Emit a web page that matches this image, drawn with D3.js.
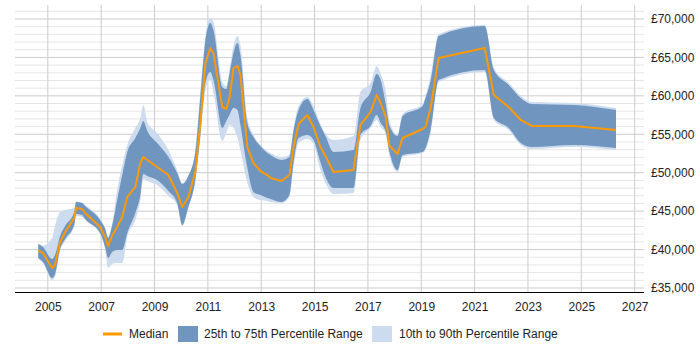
<!DOCTYPE html>
<html>
<head>
<meta charset="utf-8">
<script src="https://cdnjs.cloudflare.com/ajax/libs/d3/7.8.5/d3.min.js"></script>
<style>
  body { margin: 0; background: #fff; }
  svg { font-family: "Liberation Sans", Arial, sans-serif; }
  .tick-label { font-size: 12px; fill: #222; }
  .legend-label { font-size: 12px; fill: #222; }
</style>
</head>
<body>
<svg width="700" height="350"></svg>
<script>
const years = [2004.64, 2004.82, 2005.16, 2005.27, 2005.46, 2005.65, 2005.99, 2006.06, 2006.29, 2006.40,
  2006.96, 2007.15, 2007.26, 2007.41, 2007.60, 2007.79, 2007.98, 2008.28, 2008.47, 2008.58,
  2008.73, 2009.10, 2009.52, 2009.85, 2010.04, 2010.27, 2010.53, 2010.72, 2010.91, 2011.09,
  2011.21, 2011.54, 2011.69, 2011.81, 2011.96, 2012.11, 2012.22, 2012.48, 2012.71, 2012.97,
  2013.23, 2013.35, 2013.76, 2014.06, 2014.21, 2014.40, 2014.73, 2014.96, 2015.22, 2015.41,
  2015.71, 2016.46, 2016.72, 2017.10, 2017.33, 2017.48, 2017.66, 2017.81, 2018.11, 2018.30,
  2019.05, 2019.16, 2019.35, 2019.65, 2021.38, 2021.72, 2022.28, 2022.73, 2023.14, 2024.72,
  2026.30];

const p90 = [40750, 40500, 41500, 43070, 44890, 45150, 45410, 46250, 46100, 45800,
  43980, 42810, 41770, 43330, 47750, 51000, 53600, 55820, 57120, 58810,
  56600, 55170, 52950, 50350, 48660, 49650, 52950, 60500, 67790, 70130,
  69610, 61800, 61280, 63360, 66480, 67790, 66610, 57120, 54910, 53600,
  52820, 52560, 52040, 52300, 55690, 58680, 59850, 58680, 56340, 55040,
  54260, 54780, 60500, 61670, 63880, 62840, 60760, 56730, 54910, 57640,
  58940, 59980, 62580, 68050, 69220, 63620, 61670, 59980, 59200, 59070,
  58420];

const p75 = [40720, 40330, 38770, 39290, 41770, 43070, 44890, 46190, 46060, 45670,
  43850, 42680, 41500, 43070, 46450, 49700, 52690, 54520, 55820, 56730,
  55430, 53870, 52040, 49960, 48530, 49570, 52690, 59980, 67270, 69480,
  68570, 61150, 60890, 62840, 65570, 66880, 65310, 56470, 54650, 53470,
  52560, 52300, 51650, 52040, 55430, 58160, 59590, 58160, 56080, 54780,
  52690, 52950, 58420, 60500, 62840, 62060, 59070, 56080, 54780, 57380,
  58680, 59720, 61930, 67790, 69090, 63360, 61410, 59720, 58940, 58810,
  58160];

const median = [39940, 39550, 37600, 37990, 40990, 42290, 44110, 45410, 45280, 44760,
  42940, 41640, 40460, 41770, 42940, 44240, 46840, 48140, 51260, 52040,
  51650, 50740, 49700, 47360, 45540, 46840, 50090, 56470, 64270, 66220,
  65570, 58550, 58290, 59720, 63620, 63880, 62710, 53340, 51260, 50220,
  49700, 49310, 48920, 49700, 53340, 56340, 57510, 55950, 53340, 52170,
  50090, 50350, 56210, 57900, 60110, 59070, 57380, 53470, 52430, 54520,
  55690, 55950, 58420, 64920, 66220, 60110, 58550, 56860, 56080, 56080,
  55560];

const p25 = [38900, 38380, 36300, 36820, 40070, 41380, 43200, 44630, 44500, 43980,
  42160, 40330, 38900, 39680, 39940, 39940, 42160, 44760, 47100, 49830,
  49570, 49050, 47620, 46060, 43200, 45540, 49050, 54910, 61670, 63100,
  62060, 55820, 56730, 57510, 58420, 58160, 56210, 50610, 47490, 47100,
  46710, 46580, 46190, 47100, 51260, 54520, 54910, 54260, 51390, 49440,
  48010, 48010, 54910, 56080, 57510, 56470, 55430, 52690, 50350, 52300,
  52690, 53210, 55560, 62060, 63360, 57120, 55820, 53870, 53340, 53600,
  53210];

const p10 = [38770, 38250, 36040, 36430, 39810, 41120, 43070, 44370, 44240, 43850,
  42030, 39940, 37600, 38120, 38250, 38250, 41640, 43850, 46450, 49180,
  48920, 48400, 46970, 45800, 43070, 45410, 48920, 54650, 60760, 62060,
  60370, 54130, 55170, 56210, 55820, 54520, 52950, 48660, 46840, 46450,
  46320, 46190, 46060, 46840, 50740, 53870, 54390, 53740, 50350, 48660,
  47230, 47360, 54260, 55820, 56860, 55950, 55170, 52170, 50090, 52040,
  52560, 52950, 55170, 61800, 63100, 56860, 55560, 53600, 53080, 53340,
  52950];

const xTicks = [2005, 2007, 2009, 2011, 2013, 2015, 2017, 2019, 2021, 2023, 2025, 2027];
const yTicks = [35000, 40000, 45000, 50000, 55000, 60000, 65000, 70000];
const yMinor = d3.range(35000, 72000, 1000);
const legendLabels = ["Median", "25th to 75th Percentile Range", "10th to 90th Percentile Range"];

SalaryChart = function() {
  this.initVis();
};

SalaryChart.prototype.initVis = function() {
  let vis = this;

  vis.svg = d3.select("svg");
  vis.left = 15;
  vis.right = 644;
  vis.top = 5;
  vis.bottom = 292;

  vis.x = d3.scaleLinear()
    .domain([2003.77, 2027.35])
    .range([vis.left, vis.right]);

  vis.y = d3.scaleLinear()
    .domain([34480, 71820])
    .range([vis.bottom, vis.top]);

  vis.data = years.map(function(yr, i) {
    return { year: yr, p10: p10[i], p25: p25[i], med: median[i], p75: p75[i], p90: p90[i] };
  });

  vis.renderGrid();
  vis.renderBands();
  vis.renderAxes();
  vis.renderLegend();
};

SalaryChart.prototype.renderGrid = function() {
  let vis = this;

  // minor lines every 1000
  vis.svg.append("g")
    .selectAll("line")
    .data(yMinor.filter(function(d) { return d % 5000 !== 0; }))
    .enter()
    .append("line")
    .attr("x1", vis.left)
    .attr("x2", vis.right)
    .attr("y1", function(d) { return vis.y(d); })
    .attr("y2", function(d) { return vis.y(d); })
    .attr("stroke", "#e6e6e6")
    .attr("stroke-width", 1);

  vis.svg.append("g")
    .selectAll("line")
    .data(yTicks)
    .enter()
    .append("line")
    .attr("x1", vis.left)
    .attr("x2", vis.right)
    .attr("y1", function(d) { return vis.y(d); })
    .attr("y2", function(d) { return vis.y(d); })
    .attr("stroke", "#cccccc")
    .attr("stroke-width", 1);

  vis.svg.append("g")
    .selectAll("line")
    .data(xTicks)
    .enter()
    .append("line")
    .attr("x1", function(d) { return vis.x(d); })
    .attr("x2", function(d) { return vis.x(d); })
    .attr("y1", vis.top)
    .attr("y2", vis.bottom)
    .attr("stroke", "#cccccc")
    .attr("stroke-width", 1);
};

SalaryChart.prototype.renderBands = function() {
  let vis = this;

  let outer = d3.area()
    .curve(d3.curveMonotoneX)
    .x(function(d) { return vis.x(d.year); })
    .y0(function(d) { return vis.y(d.p10); })
    .y1(function(d) { return vis.y(d.p90); });

  let inner = d3.area()
    .curve(d3.curveMonotoneX)
    .x(function(d) { return vis.x(d.year); })
    .y0(function(d) { return vis.y(d.p25); })
    .y1(function(d) { return vis.y(d.p75); });

  let line = d3.line()
    .x(function(d) { return vis.x(d.year); })
    .y(function(d) { return vis.y(d.med); });

  vis.svg.append("path")
    .datum(vis.data)
    .attr("d", outer)
    .attr("fill", "#ccdcee");

  vis.svg.append("path")
    .datum(vis.data)
    .attr("d", inner)
    .attr("fill", "#7096bf");

  vis.svg.append("path")
    .datum(vis.data)
    .attr("d", line)
    .attr("fill", "none")
    .attr("stroke", "#ff9900")
    .attr("stroke-width", 2)
    .attr("stroke-linejoin", "round");
};

SalaryChart.prototype.renderAxes = function() {
  let vis = this;

  let xAxis = vis.svg.append("g")
    .attr("transform", "translate(0," + vis.bottom + ")")
    .call(d3.axisBottom(vis.x).tickValues(xTicks).tickSize(0).tickPadding(10).tickFormat(d3.format("d")));
  xAxis.select(".domain").attr("stroke", "#000").attr("d", "M" + vis.left + ",0.5H" + vis.right);
  xAxis.selectAll("text").attr("class", "tick-label").attr("font-family", null).attr("font-size", null);

  let yAxis = vis.svg.append("g")
    .attr("transform", "translate(" + (vis.right + 7) + ",0)")
    .call(d3.axisRight(vis.y).tickValues(yTicks).tickSize(0).tickPadding(0)
      .tickFormat(function(d) { return "£" + d3.format(",")(d); }));
  yAxis.select(".domain").remove();
  yAxis.selectAll("text").attr("class", "tick-label").attr("font-family", null).attr("font-size", null);
};

SalaryChart.prototype.renderLegend = function() {
  let vis = this;
  let ly = 334;
  let g = vis.svg.append("g");

  g.append("line")
    .attr("x1", 103).attr("x2", 122)
    .attr("y1", ly).attr("y2", ly)
    .attr("stroke", "#ff9900")
    .attr("stroke-width", 3);
  g.append("text").attr("class", "legend-label")
    .attr("x", 129).attr("y", ly).attr("dy", "0.35em")
    .text(legendLabels[0]);

  g.append("rect")
    .attr("x", 178).attr("y", ly - 8)
    .attr("width", 20).attr("height", 16)
    .attr("fill", "#7096bf");
  g.append("text").attr("class", "legend-label")
    .attr("x", 204).attr("y", ly).attr("dy", "0.35em")
    .text(legendLabels[1]);

  g.append("rect")
    .attr("x", 372).attr("y", ly - 8)
    .attr("width", 20).attr("height", 16)
    .attr("fill", "#ccdcee");
  g.append("text").attr("class", "legend-label")
    .attr("x", 399).attr("y", ly).attr("dy", "0.35em")
    .text(legendLabels[2]);
};

new SalaryChart();
</script>
</body>
</html>
